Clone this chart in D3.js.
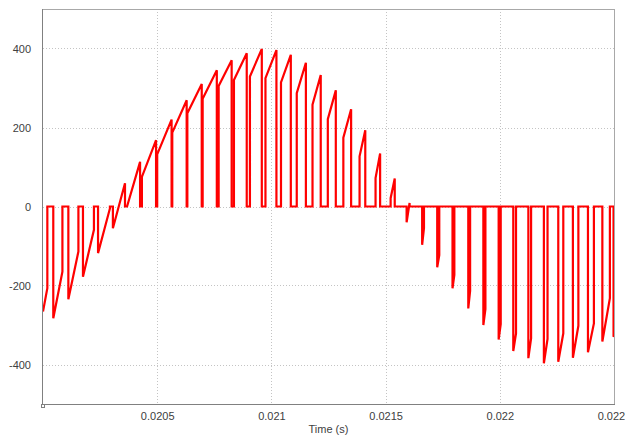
<!DOCTYPE html>
<html><head><meta charset="utf-8">
<script src="https://cdn.jsdelivr.net/npm/d3@7"></script>
<style>
body{margin:0;background:#fff;}
svg{display:block;}
text{font-family:"Liberation Sans",Arial,sans-serif;}
</style>
</head><body>
<svg id="chart" width="625" height="435"></svg>
<script>
// Each switching pulse: jump from 0 to startValue at pulseStart, ramp to endValue at pulseEnd, back to 0.
const pulseStart = [0.020000,0.020045,0.020111,0.020175,0.020241,0.020306,0.020368,0.020433,0.020500,0.020566,
  0.020632,0.020699,0.020769,0.020836,0.020906,0.020974,0.021042,0.021111,0.021180,0.021247,
  0.021315,0.021386,0.021456,0.021522,0.021592,0.021660,0.021726,0.021793,0.021862,0.021928,
  0.021995,0.022059,0.022125,0.022193,0.022256,0.022320,0.022386,0.022449,0.022498];
const pulseEnd = [0.020019,0.020085,0.020155,0.020223,0.020293,0.020359,0.020425,0.020495,0.020563,0.020629,
  0.020695,0.020761,0.020826,0.020892,0.020958,0.021022,0.021085,0.021151,0.021216,0.021282,
  0.021349,0.021411,0.021476,0.021540,0.021605,0.021668,0.021735,0.021801,0.021870,0.021937,
  0.022004,0.022071,0.022137,0.022209,0.022278,0.022344,0.022412,0.022482,0.022530];
const startValue = [-266,-283,-235,-178,-118,-55,0,75,132,187,
  236,273,305,320,329,325,314,287,258,221,
  174,127,72,21,-40,-97,-154,-207,-258,-300,
  -337,-366,-384,-397,-393,-383,-369,-342,-330];
const endValue = [-207,-165,-114,-59,-5,59,113,168,220,269,
  310,345,370,388,399,396,384,364,333,294,
  246,193,134,71,9,-55,-123,-173,-214,-260,
  -298,-321,-334,-335,-321,-302,-296,-232,-280];

const xTicks = [0.0205,0.021,0.0215,0.022,0.0225];
const xTickLabels = ["0.0205","0.021","0.0215","0.022","0.0225"];
const yTicks = [-400,-200,0,200,400];
const yTickLabels = ["-400","-200","0","200","400"];
const xTitle = "Time (s)";

const L=43, T=9, R=614, B=404;
const svg = d3.select("#chart");
const x = d3.scaleLinear().domain([0.02,0.0225]).range([L,R]);
const y = d3.scaleLinear().domain([-500,500]).range([B,T]);

// grid
const g = svg.append("g");
g.selectAll(".vg").data(xTicks.slice(0,4)).join("line")
  .attr("x1",d=>Math.round(x(d))+0.5).attr("x2",d=>Math.round(x(d))+0.5)
  .attr("y1",T).attr("y2",B)
  .attr("stroke","#c4c4c4").attr("stroke-dasharray","1,2");
g.selectAll(".hg").data(yTicks).join("line")
  .attr("x1",L).attr("x2",R)
  .attr("y1",d=>Math.round(y(d))+0.5).attr("y2",d=>Math.round(y(d))+0.5)
  .attr("stroke","#c4c4c4").attr("stroke-dasharray","1,2");

// frame
svg.append("line").attr("x1",L).attr("x2",R+0.5).attr("y1",T+0.5).attr("y2",T+0.5).attr("stroke","#a8a8a8");
svg.append("line").attr("x1",R+0.5).attr("x2",R+0.5).attr("y1",T).attr("y2",B).attr("stroke","#a8a8a8");

// waveform
const pts = [];
pulseStart.forEach((s,i)=>{
  if (s > 0.02) pts.push([s,0]);
  pts.push([s,startValue[i]]);
  pts.push([pulseEnd[i],endValue[i]]);
  pts.push([pulseEnd[i],0]);
});
svg.append("clipPath").attr("id","clip").append("rect")
  .attr("x",L).attr("y",T).attr("width",R-L).attr("height",B-T);
svg.append("path").datum(pts)
  .attr("clip-path","url(#clip)")
  .attr("fill","none").attr("stroke","#ff0000").attr("stroke-width",2.2)
  .attr("stroke-linejoin","miter")
  .attr("d",d3.line().x(d=>x(d[0])).y(d=>y(d[1])));

// axes
const ax = svg.append("g").attr("transform",`translate(0,${B})`)
  .call(d3.axisBottom(x).tickValues(xTicks).tickFormat((d,i)=>xTickLabels[i]).tickSize(0).tickPadding(8));
ax.select(".domain").attr("stroke","#808080").attr("d",`M${L},0.5H${R+1}`);
ax.selectAll("text").attr("fill","#404040").attr("font-size",11).style("font-family","'Liberation Sans',Arial,sans-serif");

const ay = svg.append("g").attr("transform",`translate(${L},0)`)
  .call(d3.axisLeft(y).tickValues(yTicks).tickFormat((d,i)=>yTickLabels[i]).tickSize(0).tickPadding(12));
ay.select(".domain").attr("stroke","#808080").attr("d",`M-0.5,${T}V${B+1}`);
ay.selectAll("text").attr("fill","#404040").attr("font-size",11).style("font-family","'Liberation Sans',Arial,sans-serif");

svg.append("rect").attr("x",L-1.5).attr("y",B+0.5).attr("width",3).attr("height",3)
  .attr("fill","#fff").attr("stroke","#808080");

svg.append("text").attr("x",(L+R)/2).attr("y",433).attr("text-anchor","middle")
  .attr("font-size",11).attr("fill","#404040").text(xTitle);
</script>
</body></html>
